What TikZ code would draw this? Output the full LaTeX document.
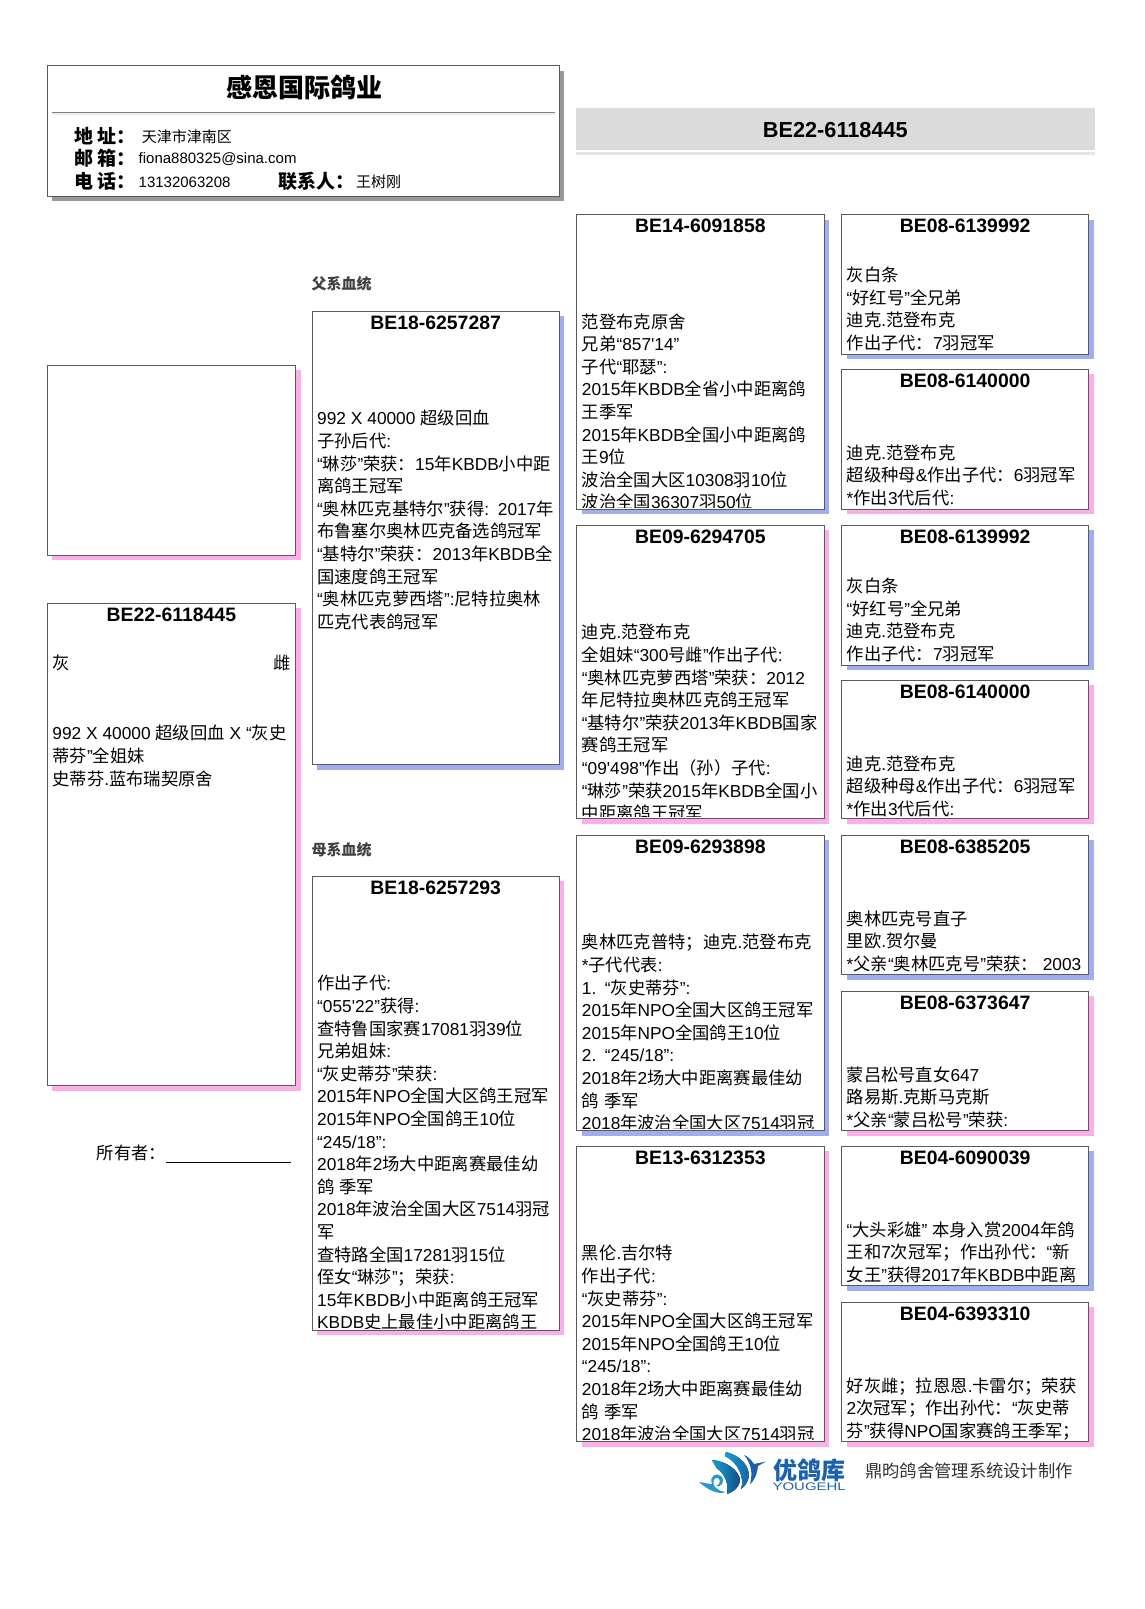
\documentclass[tikz,border=0pt]{standalone}
\usepackage{fontspec}
\setmainfont{Liberation Sans}
\newfontfamily\cjk{Noto Sans CJK SC}
\usetikzlibrary{positioning}

% CJK characters switch font by themselves
\XeTeXinterchartokenstate=1
\newXeTeXintercharclass\cjkclass
\newcount\cjkchar
\cjkchar="3000
\loop \XeTeXcharclass\cjkchar=\cjkclass \ifnum\cjkchar<"303F \advance\cjkchar by 1 \repeat
\cjkchar="4E00
\loop \XeTeXcharclass\cjkchar=\cjkclass \ifnum\cjkchar<"9FFF \advance\cjkchar by 1 \repeat
\cjkchar="FF00
\loop \XeTeXcharclass\cjkchar=\cjkclass \ifnum\cjkchar<"FF60 \advance\cjkchar by 1 \repeat
\XeTeXinterchartoks 0 \cjkclass={\cjk}
\XeTeXinterchartoks 4095 \cjkclass={\cjk}
\XeTeXinterchartoks \cjkclass 0={\rmfamily}
\XeTeXinterchartoks 4095 0={\rmfamily}

\definecolor{sireshade}{HTML}{A0AEF0}
\definecolor{damshade}{HTML}{FBAEEA}
\definecolor{framegray}{HTML}{5A5A5A}
\definecolor{logoblue}{HTML}{1B62AE}

\tikzset{
  card/.style={draw=framegray, line width=1pt, fill=white, rectangle, anchor=north west, inner sep=0pt, outer sep=0pt},
  shade/.style={rectangle, anchor=north west, inner sep=0pt, outer sep=0pt},
  birdid/.style={inner sep=0pt, font=\fontsize{19.4}{22}\selectfont\bfseries},
  birdtext/.style={anchor=north west, inner sep=0pt, text width=260pt, align=left, font=\fontsize{17.3}{22.6}\selectfont},
  contact/.style={anchor=west, inner sep=0pt, font=\fontsize{15}{18}\selectfont},
  contactkey/.style={anchor=west, inner sep=0pt, font=\fontsize{19}{22}\selectfont\bfseries},
  lineage/.style={anchor=west, inner sep=0pt, text=black!75, font=\fontsize{15}{18}\selectfont\bfseries},
}

% name, x, y, width, height, shadow, ring number, first line offset, text
\newcommand{\birdbox}[9]{
  \node (#1shade) [shade, fill=#6, minimum width=#4pt, minimum height=#5pt] at (#2+5,#3+5) {};
  \node (#1) [card, minimum width=#4pt, minimum height=#5pt] at (#2,#3) {};
  \begin{scope}
    \clip ([yshift=2pt]#1.south west) rectangle (#1.north east);
    \node (#1id) [birdid] at ([yshift=-11.5pt]#1.north) {#7};
    \node (#1text) [birdtext] at ([xshift=5pt,yshift=-#8pt]#1.north west) {\spaceskip=4.9pt\strut #9};
  \end{scope}
}

\begin{document}
\begin{tikzpicture}[x=1pt,y=-1pt]
\useasboundingbox (0,0) rectangle (1144,1609);

% header
\node (headshade) [shade, fill=black!40, minimum width=512pt, minimum height=130.5pt] at (52.2,70.7) {};
\node (head) [card, minimum width=512pt, minimum height=130.5pt] at (47.2,65.7) {};
\node (title) [inner sep=0pt, font=\fontsize{26}{30}\selectfont\bfseries] at (304.3,87.2) {感恩国际鸽业};
\node (rule) [draw=none, inner sep=0pt, minimum width=502pt, minimum height=0pt] at (303.3,112.5) {};
\draw[black!7, line width=1.5pt] ([yshift=-1.5pt]rule.west) -- ([yshift=-1.5pt]rule.east);
\draw[black!50, line width=1pt] (rule.west) -- (rule.east);

\node (addrkey) [contactkey] at (73.9,136.5) {地 址：};
\node (addr) [contact] at (141.6,137) {天津市津南区};
\node (mailkey) [contactkey] at (73.9,158) {邮 箱：};
\node (mail) [contact] at (138.5,159.5) {fiona880325@sina.com};
\node (telkey) [contactkey] at (73.9,181) {电 话：};
\node (tel) [contact] at (138.5,182) {13132063208};
\node (personkey) [contactkey] at (278,181) {联系人：};
\node (person) [contact] at (356,182) {王树刚};

% ring number banner
\node (banner) [shade, fill=black!14, minimum width=518.3pt, minimum height=42pt] at (576.2,107.8) {};
\node (bannerid) [inner sep=0pt, yshift=-1pt, font=\fontsize{21.7}{24}\selectfont\bfseries] at (banner.center) {BE22-6118445};
\fill[black!10] ([yshift=-2pt]banner.south west) rectangle ([yshift=-5pt]banner.south east);

% bird itself
\node (photoshade) [shade, fill=damshade, minimum width=248.3pt, minimum height=189.9pt] at (52.2,370.3) {};
\node (photo) [card, minimum width=248.3pt, minimum height=189.9pt] at (47.2,365.3) {};

\birdbox{bird}{47.2}{603.4}{248.3}{482.3}{damshade}{BE22-6118445}{50.3}{%
\makebox[238pt][s]{灰\hfill 雌}\\
\mbox{}\\[2.3pt]
\mbox{}\\
992 X 40000 超级回血 X “灰史\\
蒂芬”全姐妹\\
史蒂芬.蓝布瑞契原舍}

\node (owner) [anchor=west, inner sep=0pt, font=\fontsize{17.3}{20}\selectfont] at (96.5,1153) {所有者：};
\coordinate (ownerleft) at (165.5,1162.6);
\coordinate (ownerright) at (290.5,1162.6);
\draw[black, line width=1pt] (ownerleft) -- (ownerright);

% parents
\node (sirelabel) [lineage] at (311.5,284) {父系血统};
\node (damlabel) [lineage] at (311.5,850) {母系血统};

\birdbox{sire}{312}{311.4}{247.3}{453.1}{sireshade}{BE18-6257287}{97.5}{%
992 X 40000 超级回血\\
子孙后代:\\
“琳莎”荣获：15年KBDB小中距\\
离鸽王冠军\\
“奥林匹克基特尔”获得: 2017年\\
布鲁塞尔奥林匹克备选鸽冠军\\
“基特尔”荣获：2013年KBDB全\\
国速度鸽王冠军\\
“奥林匹克萝西塔”:尼特拉奥林\\
匹克代表鸽冠军}

\birdbox{dam}{312}{876.4}{247.3}{453.6}{damshade}{BE18-6257293}{97.5}{%
作出子代:\\
“055\textquotesingle 22”获得:\\
查特鲁国家赛17081羽39位\\
兄弟姐妹:\\
“灰史蒂芬”荣获:\\
2015年NPO全国大区鸽王冠军\\
2015年NPO全国鸽王10位\\
“245/18”:\\
2018年2场大中距离赛最佳幼\\
鸽 季军\\
2018年波治全国大区7514羽冠\\
军\\
查特路全国17281羽15位\\
侄女“琳莎”；荣获:\\
15年KBDB小中距离鸽王冠军\\
KBDB史上最佳小中距离鸽王}

% grandparents
\birdbox{gsire}{576.7}{214.5}{247.3}{294.5}{sireshade}{BE14-6091858}{97.5}{%
范登布克原舍\\
兄弟“857\textquotesingle 14”\\
子代“耶瑟”:\\
2015年KBDB全省小中距离鸽\\
王季军\\
2015年KBDB全国小中距离鸽\\
王9位\\
波治全国大区10308羽10位\\
波治全国36307羽50位}

\birdbox{gdam}{576.7}{525.4}{247.3}{293.5}{damshade}{BE09-6294705}{97.5}{%
迪克.范登布克\\
全姐妹“300号雌”作出子代:\\
“奥林匹克萝西塔”荣获：2012\\
年尼特拉奥林匹克鸽王冠军\\
“基特尔”荣获2013年KBDB国家\\
赛鸽王冠军\\
“09\textquotesingle 498”作出（孙）子代:\\
“琳莎”荣获2015年KBDB全国小\\
中距离鸽王冠军}

\birdbox{msire}{576.7}{835.3}{247.3}{295.6}{sireshade}{BE09-6293898}{97.5}{%
奥林匹克普特；迪克.范登布克\\{}
*子代代表:\\
1. “灰史蒂芬”:\\
2015年NPO全国大区鸽王冠军\\
2015年NPO全国鸽王10位\\
2. “245/18”:\\
2018年2场大中距离赛最佳幼\\
鸽 季军\\
2018年波治全国大区7514羽冠}

\birdbox{mdam}{576.7}{1146.3}{247.3}{295.5}{damshade}{BE13-6312353}{97.5}{%
黑伦.吉尔特\\
作出子代:\\
“灰史蒂芬”:\\
2015年NPO全国大区鸽王冠军\\
2015年NPO全国鸽王10位\\
“245/18”:\\
2018年2场大中距离赛最佳幼\\
鸽 季军\\
2018年波治全国大区7514羽冠}

% great grandparents
\birdbox{ggone}{841.5}{214.5}{247.3}{139.6}{sireshade}{BE08-6139992}{51}{%
灰白条\\
“好红号”全兄弟\\
迪克.范登布克\\
作出子代：7羽冠军}

\birdbox{ggtwo}{841.5}{369.4}{247.3}{139.6}{damshade}{BE08-6140000}{73.8}{%
迪克.范登布克\\
超级种母\&作出子代：6羽冠军\\{}
*作出3代后代:}

\birdbox{ggthree}{841.5}{525.4}{247.3}{139.6}{sireshade}{BE08-6139992}{51}{%
灰白条\\
“好红号”全兄弟\\
迪克.范登布克\\
作出子代：7羽冠军}

\birdbox{ggfour}{841.5}{680.4}{247.3}{138.5}{damshade}{BE08-6140000}{73.8}{%
迪克.范登布克\\
超级种母\&作出子代：6羽冠军\\{}
*作出3代后代:}

\birdbox{ggfive}{841.5}{835.3}{247.3}{139.6}{sireshade}{BE08-6385205}{73.8}{%
奥林匹克号直子\\
里欧.贺尔曼\\{}
*父亲“奥林匹克号”荣获： 2003}

\birdbox{ggsix}{841.5}{991.3}{247.3}{139.6}{damshade}{BE08-6373647}{73.8}{%
蒙吕松号直女647\\
路易斯.克斯马克斯\\{}
*父亲“蒙吕松号”荣获:}

\birdbox{ggseven}{841.5}{1146.3}{247.3}{139.6}{sireshade}{BE04-6090039}{73.8}{%
“大头彩雄” 本身入赏2004年鸽\\
王和7次冠军；作出孙代：“新\\
女王”获得2017年KBDB中距离}

\birdbox{ggeight}{841.5}{1302.2}{247.3}{139.6}{damshade}{BE04-6393310}{73.8}{%
好灰雌；拉恩恩.卡雷尔；荣获\\
2次冠军；作出孙代：“灰史蒂\\
芬”获得NPO国家赛鸽王季军；}

% footer
\fill[left color=logoblue!60!cyan, right color=logoblue!80!black]
  (712,1460) .. controls (726,1461) and (739,1470) .. (740,1480)
  .. controls (740,1486) and (735,1491) .. (727,1494)
  .. controls (729,1485) and (725,1473) .. (717,1468.5) -- cycle;
\fill[left color=logoblue!60!cyan, right color=logoblue]
  (726,1452) .. controls (741,1456) and (749,1466) .. (749,1476)
  .. controls (748,1482) and (745,1486) .. (741,1489)
  .. controls (745,1478) and (738,1462) .. (725,1456) -- cycle;
\fill[logoblue]
  (744,1455) .. controls (749,1457) and (752,1461) .. (754,1464)
  -- (766,1461.5) -- (758,1466)
  .. controls (757,1475) and (754,1481) .. (750,1484)
  .. controls (753,1473) and (751,1463) .. (744,1455) -- cycle;
\fill[cyan!60!logoblue]
  (699,1482) .. controls (706,1483) and (709,1484) .. (712,1484)
  .. controls (709,1476) and (716,1472) .. (721,1476)
  .. controls (726,1481) and (721,1488) .. (716,1486)
  .. controls (720,1485) and (721,1480) .. (718,1478)
  .. controls (713,1477) and (712,1483) .. (715,1487)
  .. controls (719,1491) and (724,1492) .. (726,1492)
  .. controls (718,1495) and (708,1490) .. (699,1482) -- cycle;

\node (brand) [anchor=west, inner sep=0pt, text=logoblue, font=\fontsize{24}{26}\selectfont\bfseries] at (773,1470) {优鸽库};
\node (brandlatin) [below=1pt of brand.south, inner sep=0pt, text=logoblue, xscale=1.36, transform shape, font=\fontsize{11}{12}\selectfont] {YOUGEHL};
\node (credit) [anchor=west, inner sep=0pt, text=black!80, font=\fontsize{17.3}{20}\selectfont] at (865,1470.5) {鼎昀鸽舍管理系统设计制作};

\end{tikzpicture}
\end{document}
